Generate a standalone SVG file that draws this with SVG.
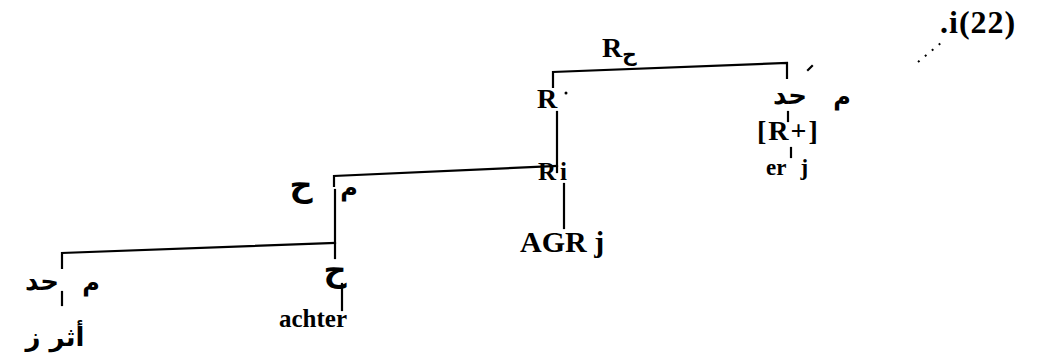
<svg xmlns="http://www.w3.org/2000/svg" width="1042" height="360" viewBox="0 0 1042 360">
<style>
.lat{font-family:"Liberation Serif","DejaVu Serif",serif;font-weight:bold;fill:#000}
.ar{font-family:"DejaVu Sans","Noto Sans",sans-serif;font-weight:bold;fill:#000}
.ln{stroke:#000;stroke-width:2.2;fill:none;stroke-linecap:square}
.dot{stroke:#000;stroke-width:2;fill:none;stroke-dasharray:2 7}
</style>
<rect width="1042" height="360" fill="#fff"/>
<g id="connectors">
<polyline class="ln" points="553,87 553,72 787,63 787,78"/>
<line class="ln" x1="557" y1="112" x2="557" y2="172"/>
<line class="ln" x1="788" y1="112" x2="788" y2="121"/>
<line class="ln" x1="791" y1="148" x2="791" y2="157"/>
<polyline class="ln" points="334,186 334,176 557,166"/>
<line class="ln" x1="335" y1="190" x2="335" y2="258"/>
<line class="ln" x1="564" y1="184" x2="564" y2="228"/>
<polyline class="ln" points="62,268 62,253 335,243"/>
<line class="ln" x1="62" y1="292" x2="62" y2="305"/>
<line class="ln" x1="342" y1="284" x2="342" y2="310"/>
<line class="dot" x1="918" y1="62" x2="942" y2="42"/>
<line class="ln" x1="808" y1="70" x2="812" y2="66" stroke-width="1.5"/>
</g>
<g id="n-Rtop"><text class="lat" x="602" y="57" font-size="28">R<tspan class="ar" font-size="20" dy="4">ح</tspan></text></g>
<g id="n-i22"><text class="lat" x="940" y="33" font-size="32" letter-spacing="1">.i(22)</text></g>
<g id="n-R"><text class="lat" x="537" y="108" font-size="28">R</text><circle cx="566" cy="93" r="1.5" fill="#000"/></g>
<g id="n-hd-right"><text class="ar" x="790" y="104" font-size="26" text-anchor="middle">حد</text><text class="ar" x="842" y="105" font-size="24" text-anchor="middle">م</text></g>
<g id="n-Rplus"><text class="lat" x="757" y="140" font-size="28" letter-spacing="2">[R+]</text></g>
<g id="n-erj"><text class="lat" x="766" y="175" font-size="23">er<tspan dx="14">j</tspan></text></g>
<g id="n-Ri"><text class="lat" x="538" y="180" font-size="25">R<tspan dx="4">i</tspan></text></g>
<g id="n-hm"><text class="ar" x="301" y="196" font-size="32" text-anchor="middle">ح</text><text class="ar" x="349" y="196" font-size="24" text-anchor="middle">م</text></g>
<g id="n-AGR"><text class="lat" x="520" y="252" font-size="30">AGR j</text></g>
<g id="n-hd-left"><text class="ar" x="42" y="290" font-size="26" text-anchor="middle">حد</text><text class="ar" x="91" y="291" font-size="24" text-anchor="middle">م</text></g>
<g id="n-athar"><text class="ar" x="55" y="346" font-size="26" text-anchor="middle">أثر ز</text></g>
<g id="n-h"><text class="ar" x="335" y="281" font-size="32" text-anchor="middle">ح</text></g>
<g id="n-achter"><text class="lat" x="279" y="327" font-size="25">achter</text></g>
</svg>
